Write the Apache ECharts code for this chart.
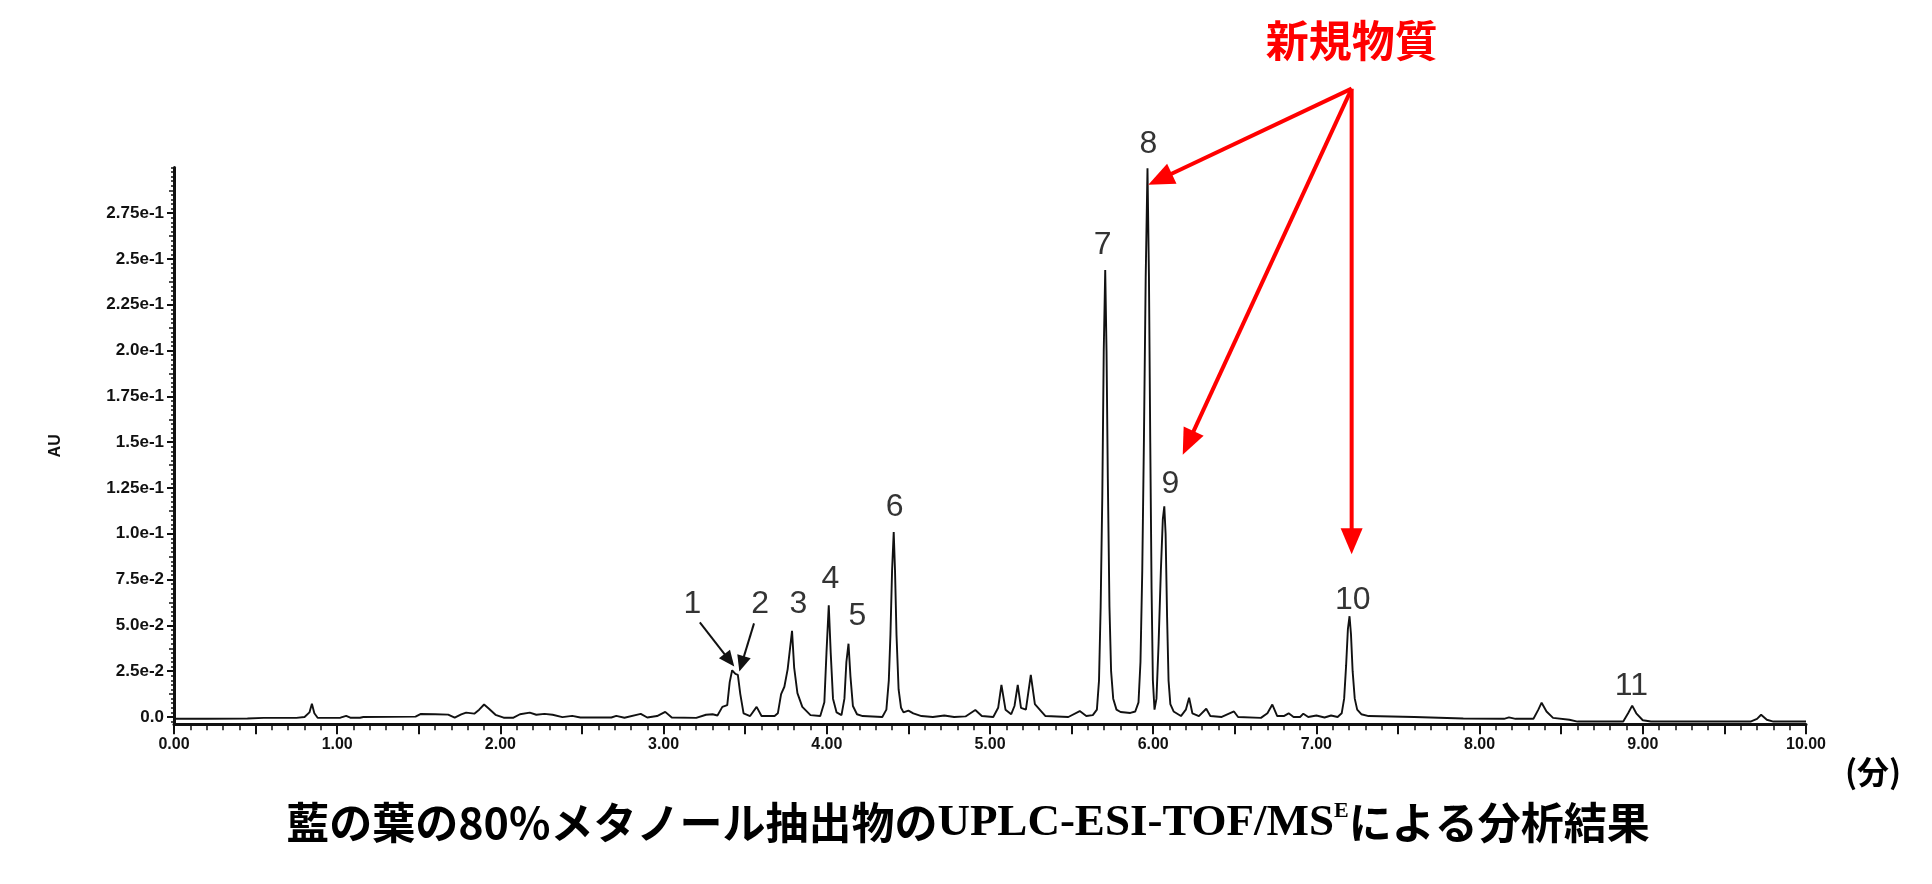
<!DOCTYPE html>
<html><head><meta charset="utf-8">
<script src="https://cdn.jsdelivr.net/npm/echarts@6/dist/echarts.min.js"></script>
<style>html,body{margin:0;padding:0;background:#fff}#c{width:1932px;height:884px}</style>
</head><body><div id="c"></div>
<script>
// ---- data (retention time in minutes, absorbance in AU) ----
const times = [0.00,0.20,0.45,0.55,0.75,0.80,0.83,0.845,0.86,0.88,0.95,1.02,1.055,1.08,1.14,1.16,1.48,1.51,1.60,1.68,1.72,1.76,1.79,1.84,1.87,1.90,1.93,1.97,2.02,2.08,2.12,2.18,2.22,2.27,2.32,2.38,2.44,2.49,2.68,2.71,2.76,2.86,2.90,2.96,3.01,3.05,3.20,3.26,3.30,3.33,3.36,3.39,3.405,3.42,3.44,3.455,3.47,3.49,3.53,3.57,3.60,3.68,3.70,3.72,3.74,3.76,3.787,3.80,3.82,3.85,3.90,3.96,3.985,3.998,4.012,4.024,4.038,4.06,4.09,4.108,4.12,4.133,4.145,4.16,4.185,4.22,4.34,4.365,4.38,4.39,4.40,4.41,4.418,4.427,4.44,4.455,4.47,4.50,4.53,4.58,4.65,4.72,4.78,4.85,4.91,4.95,5.02,5.05,5.07,5.095,5.13,5.15,5.17,5.19,5.22,5.25,5.275,5.31,5.34,5.48,5.55,5.59,5.63,5.655,5.668,5.678,5.688,5.697,5.706,5.714,5.722,5.732,5.742,5.755,5.775,5.80,5.86,5.89,5.91,5.922,5.933,5.943,5.954,5.965,5.974,5.982,5.99,5.998,6.008,6.02,6.033,6.047,6.059,6.068,6.076,6.085,6.094,6.105,6.125,6.17,6.20,6.22,6.24,6.28,6.325,6.35,6.42,6.495,6.52,6.66,6.70,6.73,6.76,6.80,6.83,6.86,6.90,6.92,6.95,7.00,7.05,7.09,7.13,7.155,7.17,7.182,7.193,7.203,7.212,7.222,7.235,7.25,7.275,7.32,7.60,7.90,8.15,8.18,8.22,8.33,8.36,8.38,8.41,8.45,8.55,8.60,8.88,8.91,8.935,8.96,9.00,9.05,9.66,9.70,9.725,9.76,9.80,10.00];
const absorbance = [-0.001,-0.001,-0.0008,-0.0005,-0.0005,0.0,0.0025,0.0072,0.002,-0.0004,-0.0005,-0.0004,0.0006,-0.0004,-0.0004,0.0,0.0002,0.0016,0.0015,0.0013,-0.0004,0.0014,0.0024,0.0018,0.004,0.0068,0.0045,0.0012,-0.0004,-0.0004,0.0015,0.0024,0.0012,0.0017,0.0012,-0.0001,0.0006,-0.0003,-0.0003,0.0006,-0.0004,0.0017,-0.0003,0.0005,0.0028,-0.0003,-0.0005,0.0012,0.0015,0.0008,0.0055,0.0065,0.019,0.0255,0.0235,0.023,0.0125,0.002,0.0005,0.0055,0.0005,0.0005,0.002,0.0125,0.0165,0.026,0.047,0.027,0.013,0.0055,0.001,0.0005,0.008,0.035,0.061,0.035,0.01,0.0025,0.001,0.01,0.03,0.040,0.022,0.006,0.0015,0.0005,0.0,0.004,0.02,0.045,0.08,0.101,0.08,0.045,0.015,0.005,0.0025,0.0035,0.002,0.0005,0.0,0.0008,0.0,0.0003,0.0038,0.0005,0.0,0.005,0.0175,0.004,0.0015,0.006,0.0175,0.005,0.004,0.023,0.007,0.0035,0.0005,0.0,0.0032,0.0005,0.001,0.004,0.02,0.06,0.12,0.20,0.244,0.20,0.13,0.06,0.025,0.01,0.004,0.0027,0.0022,0.003,0.008,0.03,0.08,0.15,0.24,0.2995,0.24,0.15,0.07,0.02,0.004,0.01,0.04,0.08,0.108,0.115,0.10,0.055,0.02,0.007,0.003,0.0005,0.004,0.0105,0.002,0.0005,0.0045,0.0005,0.0,0.003,0.0,-0.0005,0.002,0.0068,0.0005,0.0005,0.002,0.0,0.0,0.0018,0.0,0.0008,-0.0003,0.0008,0.0,0.002,0.01,0.028,0.048,0.055,0.045,0.025,0.01,0.004,0.0015,0.0005,0.0,-0.0008,-0.001,-0.0002,-0.001,-0.001,0.004,0.0078,0.003,-0.0005,-0.0015,-0.0025,-0.0025,0.002,0.0062,0.002,-0.0018,-0.0025,-0.0025,-0.001,0.0012,-0.0015,-0.0025,-0.0025];

const xTickValues = [0,1,2,3,4,5,6,7,8,9,10];
const yTickValues = [0,0.025,0.05,0.075,0.1,0.125,0.15,0.175,0.2,0.225,0.25,0.275];
const yTickLabels = ['0.0','2.5e-2','5.0e-2','7.5e-2','1.0e-1','1.25e-1','1.5e-1','1.75e-1','2.0e-1','2.25e-1','2.5e-1','2.75e-1'];

const peakNames = ['1','2','3','4','5','6','7','8','9','10','11'];
const peakLabelTimes = [3.176,3.592,3.826,4.022,4.188,4.415,5.690,5.970,6.106,7.223,8.930];
const peakLabelAU = [0.0618,0.0618,0.0618,0.0753,0.0551,0.1143,0.2575,0.3127,0.1271,0.0639,0.0168];

const pointerFrom = [[3.222,0.0517],[3.554,0.0511]];
const pointerTo = [[3.433,0.0275],[3.464,0.0248]];

const newSubstanceText = '新規物質';
const newSubstanceAnchor = [7.216,0.3692];
const newSubstanceOrigin = [7.216,0.343];
const newSubstanceTargets = [[5.970,0.2905],[6.181,0.1432],[7.216,0.0888]];

const titleParts = ['藍の葉の','80%','メタノール抽出物の','UPLC-ESI-TOF/MS','E','による分析結果'];
const xUnit = '(分)';
const yName = 'AU';

// ---- build ----
const yMin = -0.004, yMax = 0.3;
const minorY = []; for (let i = -1; i <= 120; i++) minorY.push(+(i*0.0025).toFixed(4));
const midY = []; for (let i = 0; i < 24; i++) midY.push(+(0.0125 + i*0.025).toFixed(4));

const chart = echarts.init(document.getElementById('c'), null, {renderer:'canvas'});
const seriesData = times.map((t,i)=>[t, absorbance[i]]);
const labelData = peakNames.map((n,i)=>({name:n, value:[peakLabelTimes[i], peakLabelAU[i]]}));

const axisFont = "'Liberation Sans', Arial, sans-serif";
chart.setOption({
  animation:false,
  backgroundColor:'#fff',
  grid:{left:174, right:126, top:167.4, bottom:159.7, outerBoundsMode:'none'},
  xAxis:[{
    type:'value', min:0, max:10, interval:0.5,
    axisLine:{show:true, onZero:false, lineStyle:{color:'#111', width:3}},
    axisTick:{show:true, inside:false, length:10, lineStyle:{color:'#111', width:2}},
    minorTick:{show:true, splitNumber:5, length:6, lineStyle:{color:'#111', width:1.5}},
    axisLabel:{margin:12, fontSize:16, fontWeight:'bold', fontFamily:axisFont, color:'#111',
      formatter:v=> (xTickValues.indexOf(Math.round(v*100)/100) >= 0) ? v.toFixed(2) : ''},
    splitLine:{show:false}, minorSplitLine:{show:false}
  }],
  yAxis:[{
    type:'value', min:yMin, max:yMax,
    name:yName, nameLocation:'middle', nameGap:110,
    nameTextStyle:{fontSize:16, fontWeight:'bold', fontFamily:axisFont, color:'#111'},
    axisLine:{show:true, onZero:false, lineStyle:{color:'#111', width:3}},
    axisTick:{show:true, length:7, customValues:yTickValues, lineStyle:{color:'#111', width:2}},
    axisLabel:{margin:10, fontSize:17, fontWeight:'bold', fontFamily:axisFont, color:'#111',
      customValues:yTickValues,
      formatter:v=>{const k=yTickValues.findIndex(x=>Math.abs(x-v)<1e-6); return k>=0?yTickLabels[k]:'';}},
    splitLine:{show:false}
  },{
    type:'value', min:yMin, max:yMax, position:'left',
    axisLine:{show:false},
    axisTick:{show:true, length:3, customValues:minorY, lineStyle:{color:'#111', width:1.5}},
    axisLabel:{show:false}, splitLine:{show:false}
  },{
    type:'value', min:yMin, max:yMax, position:'left',
    axisLine:{show:false},
    axisTick:{show:true, length:5, customValues:midY, lineStyle:{color:'#111', width:1.5}},
    axisLabel:{show:false}, splitLine:{show:false}
  }],
  series:[{
    type:'line', data:seriesData, showSymbol:false, symbol:'none', smooth:false,
    lineStyle:{color:'#111', width:1.9}, clip:false, z:3
  },{
    type:'scatter', data:labelData, symbolSize:1, clip:false,
    itemStyle:{color:'rgba(0,0,0,0)'},
    label:{show:true, position:'inside', formatter:p=>p.name, fontSize:32, color:'#000', fontFamily:axisFont},
    z:4
  }]
});

function px(p){ return chart.convertToPixel({gridIndex:0}, p); }
function arrow(p0, p1, color, w, hl, hw){
  const dx=p1[0]-p0[0], dy=p1[1]-p0[1], L=Math.hypot(dx,dy), ux=dx/L, uy=dy/L;
  const bx=p1[0]-ux*hl, by=p1[1]-uy*hl;
  return [
    {type:'line', shape:{x1:p0[0],y1:p0[1],x2:bx+ux*2,y2:by+uy*2}, style:{stroke:color, lineWidth:w}, z:10},
    {type:'polygon', shape:{points:[[p1[0],p1[1]],[bx-uy*hw,by+ux*hw],[bx+uy*hw,by-ux*hw]]}, style:{fill:color}, z:10}
  ];
}
const g = [];
pointerFrom.forEach((f,i)=>{ g.push(...arrow(px(f), px(pointerTo[i]), '#111', 2, 16, 7)); });
const o = px(newSubstanceOrigin);
newSubstanceTargets.forEach(t=>{ g.push(...arrow(o, px(t), '#ff0000', 4, 26, 11)); });
const a = px(newSubstanceAnchor);
g.push({type:'text', x:a[0], y:a[1], style:{text:newSubstanceText, fill:'#ff0000', font:"bold 43px 'Noto Sans CJK JP'", align:'center', verticalAlign:'middle'}, z:10});
g.push({type:'text', x:1873, y:772, style:{text:xUnit, fill:'#000', font:"bold 32px 'Noto Sans CJK JP'", align:'center', verticalAlign:'middle'}, z:10});
const cjk = "'Noto Sans CJK JP'";
g.push({type:'text', x:968, y:823, style:{
  text:'{a|'+titleParts[0]+'}{n|'+titleParts[1]+'}{a|'+titleParts[2]+'}{l|'+titleParts[3]+'}{s|'+titleParts[4]+'}{a|'+titleParts[5]+'}',
  align:'center', verticalAlign:'middle', fill:'#000',
  rich:{
    a:{fontFamily:cjk, fontWeight:'bold', fontSize:43, fill:'#000', color:'#000'},
    n:{fontFamily:cjk, fontWeight:'bold', fontSize:43, fill:'#000', color:'#000'},
    l:{fontFamily:"'Liberation Serif', serif", fontWeight:'bold', fontSize:45, fill:'#000', color:'#000'},
    s:{fontFamily:"'Liberation Serif', serif", fontWeight:'bold', fontSize:22, fill:'#000', color:'#000', verticalAlign:'top', padding:[0,0,20,0]}
  }}, z:10});
chart.setOption({graphic:g});
</script></body></html>
